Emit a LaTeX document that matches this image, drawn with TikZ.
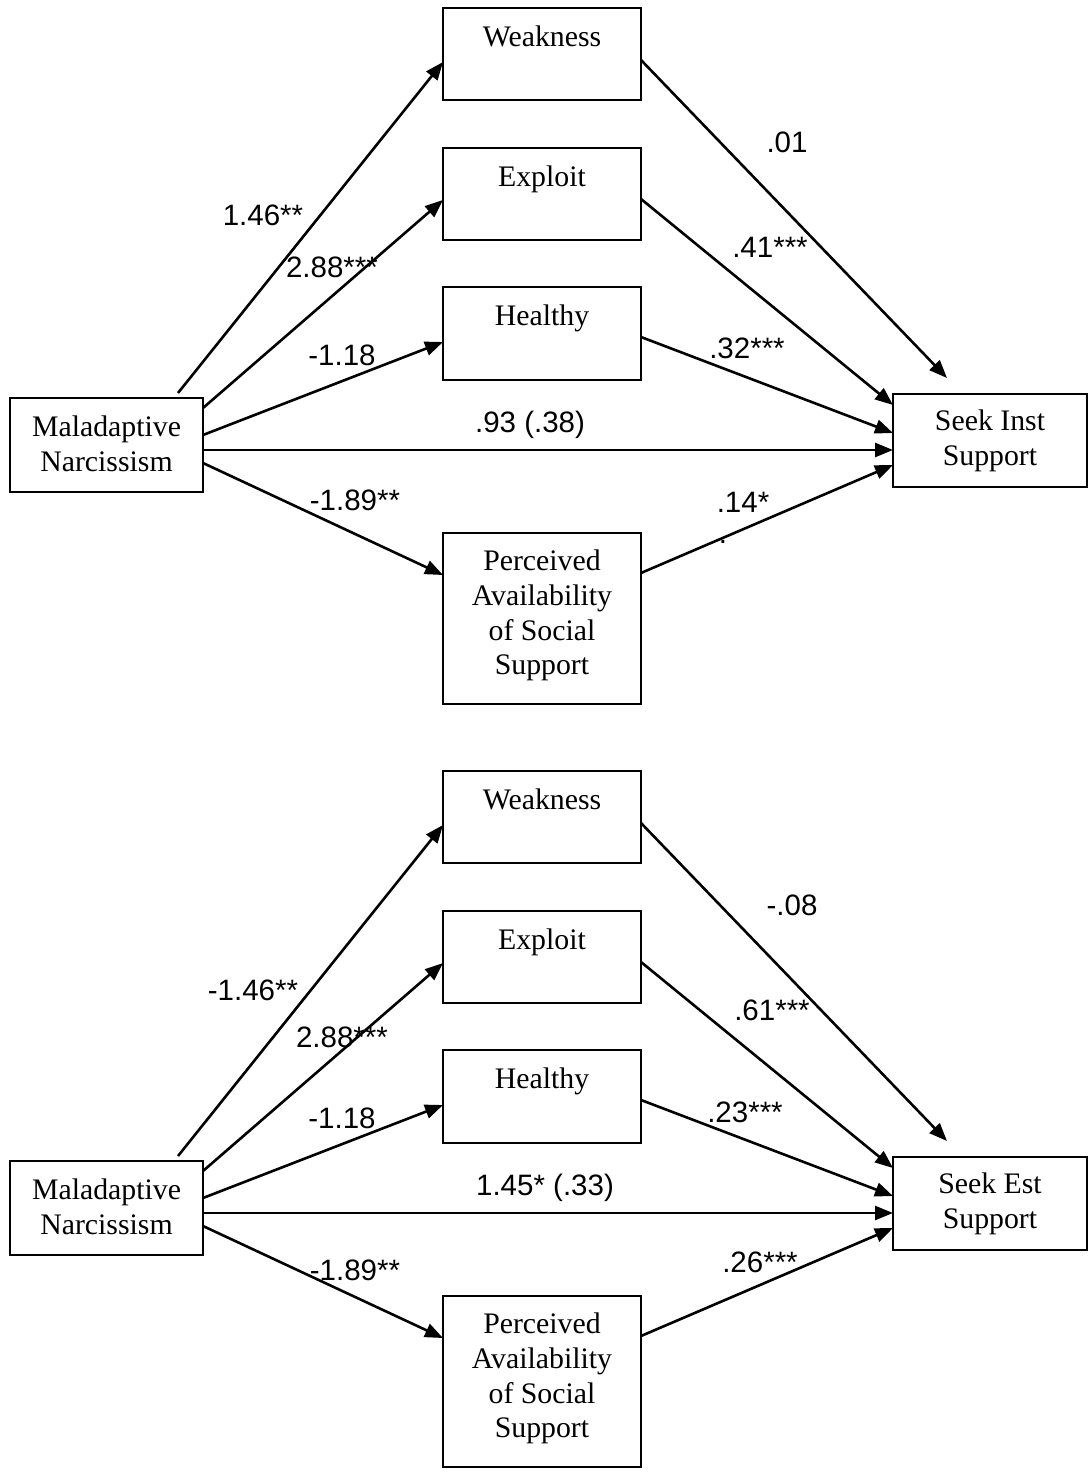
\documentclass[tikz,border=0pt]{standalone}
\usepackage{fontspec}
\setmainfont{Liberation Serif}
\newfontfamily\numfont{Liberation Sans}
\usetikzlibrary{arrows.meta,calc}

% One mediation model: predictor, four mediators and one outcome.
% #1 = name suffix, #2 = vertical offset (px), #3 = outcome text
\newcommand\modelpanel[3]{%
  \begin{scope}[shift={(0,#2)}]
    \node[box, minimum height=92pt, toptext=Weakness] (weak#1) at (542,54) {};
    \node[box, minimum height=92pt, toptext=Exploit]  (expl#1) at (542,194) {};
    \node[box, minimum height=93pt, toptext=Healthy]  (heal#1) at (542,333.5) {};
    \node[box, minimum height=171pt,
          label={[btxt,yshift=3pt]center:Perceived\\Availability\\of Social\\Support}] (perc#1) at (542,618.5) {};
    \node[box, minimum width=193pt, minimum height=94pt,
          label={[btxt,yshift=1pt]center:Maladaptive\\Narcissism}] (mal#1) at (106.5,445) {};
    \node[box, minimum width=194pt, minimum height=93pt,
          label={[btxt,yshift=0pt]center:#3}] (out#1) at (990,440.5) {};
  \end{scope}
  % a paths
  \draw[link] ($(mal#1.north east)+(-25,-5)$) -- ($(weak#1.west)+(0,8)$);
  \draw[link] ($(mal#1.north east)+(0,10)$)   -- ($(expl#1.west)+(0,6)$);
  \draw[link] ($(mal#1.north east)+(0,37)$)   -- ($(heal#1.west)+(0,8.5)$);
  \draw[link] ($(mal#1.north east)+(0,65)$)   -- ($(perc#1.north west)+(0,42)$);
  % direct path
  \draw[link] ($(mal#1.north east)+(0,52)$)   -- ($(out#1.north west)+(0,56)$);
  % b paths
  \draw[link] ($(weak#1.east)+(0,6)$)         -- ($(out#1.north west)+(54,-16)$);
  \draw[link] ($(expl#1.east)+(0,5)$)         -- ($(out#1.north west)+(0,11)$);
  \draw[link] ($(heal#1.east)+(0,3.5)$)       -- ($(out#1.north west)+(0,39)$);
  \draw[link] ($(perc#1.north east)+(0,40)$)  -- ($(out#1.north west)+(0,71)$);
}

\begin{document}
\begin{tikzpicture}[x=1pt,y=-1pt,
  box/.style={draw, line width=2.4pt, inner sep=0pt, outer sep=0pt,
              minimum width=198pt, fill=white},
  btxt/.style={font=\fontsize{29.8}{34.7}\selectfont, align=center, inner sep=0pt},
  toptext/.style={label={[btxt,anchor=base,yshift=-38pt]north:#1}},
  link/.style={line width=2.6pt, -{Triangle[length=18pt,width=14pt]}},
  coef/.style={font=\numfont\fontsize{29.5}{34}\selectfont, inner sep=0pt}
]
\useasboundingbox[fill=white] (0,0) rectangle (1087,1475);

% Instrumental support model
\modelpanel{1}{0}{Seek Inst\\Support}
\node[coef] (ca1) at (263,215) {1.46**};
\node[coef] (cb1) at (332,267) {2.88***};
\node[coef] (cc1) at (342,355) {-1.18};
\node[coef] (cd1) at (530,425) {.93 (.38)};
\node[coef] (ce1) at (355,500) {-1.89**};
\node[coef] (cf1) at (787,142) {.01};
\node[coef] (cg1) at (770,247) {.41***};
\node[coef] (ch1) at (747,348) {.32***};
\node[coef] (ci1) at (743,502) {.14*};
\node[coef] (cj1) at (723,542) {.};

% Emotional support model
\modelpanel{2}{763}{Seek Est\\Support}
\node[coef] (ca2) at (253,990) {-1.46**};
\node[coef] (cb2) at (342,1037) {2.88***};
\node[coef] (cc2) at (342,1118) {-1.18};
\node[coef] (cd2) at (545,1188) {1.45* (.33)};
\node[coef] (ce2) at (355,1270) {-1.89**};
\node[coef] (cf2) at (792,905) {-.08};
\node[coef] (cg2) at (772,1010) {.61***};
\node[coef] (ch2) at (745,1112) {.23***};
\node[coef] (ci2) at (760,1262) {.26***};
\end{tikzpicture}
\end{document}
